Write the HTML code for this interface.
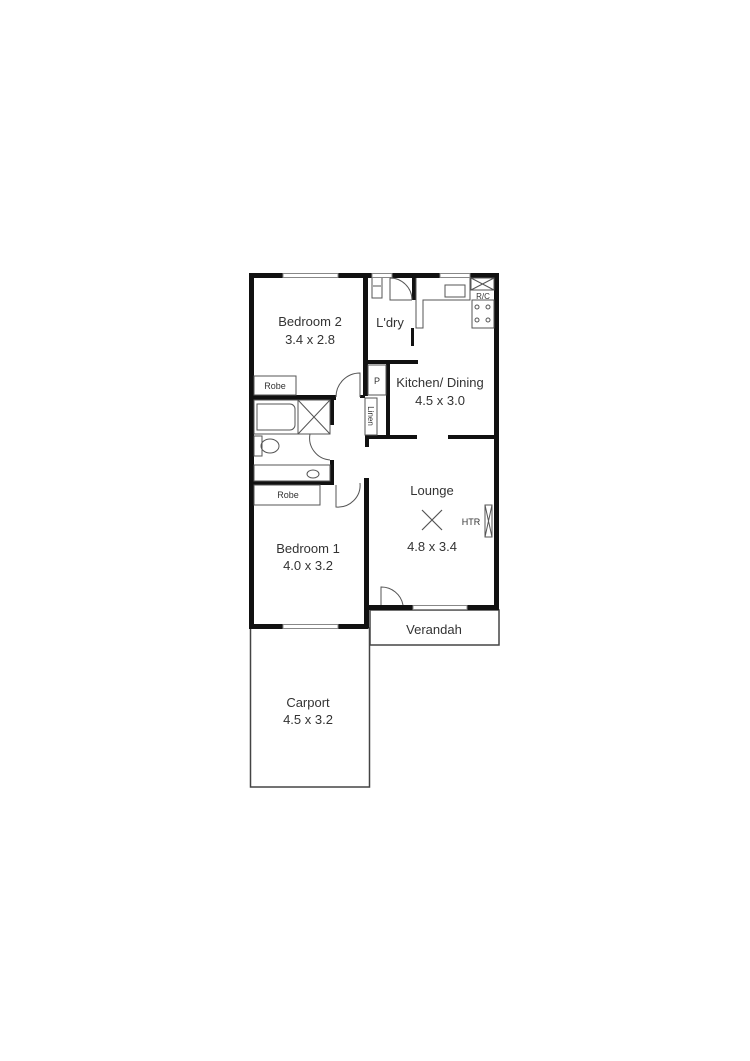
<!DOCTYPE html>
<html><head><style>
html,body{margin:0;padding:0;background:#fff;}
svg{display:block}
text{font-family:"Liberation Sans",sans-serif;fill:#333}
</style></head><body>
<svg width="750" height="1061" viewBox="0 0 750 1061" xmlns="http://www.w3.org/2000/svg">
<rect width="750" height="1061" fill="#fff"/>
<!-- carport & verandah -->
<rect x="250.5" y="628" width="119" height="159" fill="none" stroke="#444" stroke-width="1.5"/>
<rect x="370" y="610" width="129" height="35" fill="none" stroke="#444" stroke-width="1.5"/>
<g fill="#111">
<!-- outer walls -->
<rect x="249" y="273" width="5" height="356"/>
<rect x="249" y="273" width="250" height="5"/>
<rect x="494" y="273" width="5" height="337"/>
<rect x="249" y="624" width="119" height="5"/>
<rect x="366" y="605" width="133" height="5"/>
<!-- interior -->
<rect x="363" y="273" width="5" height="123"/>
<rect x="412" y="273" width="4" height="27"/>
<rect x="411" y="328" width="3" height="18"/>
<rect x="366" y="360" width="52" height="4"/>
<rect x="254" y="395" width="82" height="5"/>
<rect x="330" y="395" width="4" height="30"/>
<rect x="330" y="460" width="4" height="25"/>
<rect x="254" y="481" width="80" height="4"/>
<rect x="386" y="364" width="4" height="74"/>
<rect x="365" y="435" width="52" height="4"/>
<rect x="448" y="435" width="47" height="4"/>
<rect x="365" y="435" width="4" height="12"/>
<rect x="364" y="478" width="5" height="150"/>
<rect x="360" y="395" width="5" height="3"/>
</g>
<!-- windows -->
<g fill="#fff" stroke="#888" stroke-width="1">
<rect x="283" y="273.5" width="55" height="4"/>
<rect x="372" y="273.5" width="20" height="4"/>
<rect x="440" y="273.5" width="30" height="4"/>
<rect x="283" y="624.5" width="55" height="4"/>
<rect x="413" y="605.5" width="54" height="4"/>
</g>
<!-- fixtures -->
<g fill="none" stroke="#555" stroke-width="1">
<rect x="254" y="376" width="42" height="19"/>
<rect x="254" y="485" width="66" height="20"/>
<rect x="368" y="365" width="18" height="30"/>
<rect x="365" y="398" width="12" height="37"/>
<rect x="254" y="400" width="44" height="34"/>
<path d="M257 404 h33 a5 5 0 0 1 5 5 v16 a5 5 0 0 1 -5 5 h-33 z"/>
<rect x="298" y="400" width="32" height="34"/>
<path d="M298 400 L330 434 M330 400 L298 434"/>
<rect x="254" y="436" width="8" height="20"/>
<ellipse cx="270" cy="446" rx="9" ry="7"/>
<rect x="254" y="465" width="76" height="16"/>
<ellipse cx="313" cy="474" rx="6" ry="4"/>
<path d="M372 278 v20 h10 v-20 M373 286 h8"/>
<path d="M416 278 v50 h7 v-28 h47 v-22"/>
<path d="M445 285 h20 v12 h-20z"/>
<rect x="471" y="278" width="23" height="12"/><path d="M471 278 L494 290 M494 278 L471 290"/>
<rect x="472" y="300" width="22" height="28"/>
<circle cx="477" cy="307" r="2"/><circle cx="488" cy="307" r="2"/><circle cx="477" cy="320" r="2"/><circle cx="488" cy="320" r="2"/>
<rect x="485" y="505" width="7" height="32"/><path d="M485 505 L492 537 M492 505 L485 537"/>
<path d="M422 510 L442 530 M442 510 L422 530" stroke-width="1.2"/>
<!-- door arcs -->
<path d="M390 278 v22 h22" /><path d="M390 278 a22 22 0 0 1 22 22"/>
<path d="M336 397 a24 24 0 0 1 24 -24 v24"/>
<path d="M310 434 a22 22 0 0 0 20 26"/>
<path d="M336 485 v22 a22 22 0 0 0 24 -24"/>
<path d="M381 605 v-18 a22 22 0 0 1 22 18"/>
</g>
<g text-anchor="middle">
<text x="310" y="326" font-size="13">Bedroom 2</text>
<text x="310" y="344" font-size="13">3.4 x 2.8</text>
<text x="390" y="327" font-size="13">L'dry</text>
<text x="440" y="387" font-size="13">Kitchen/ Dining</text>
<text x="440" y="405" font-size="13">4.5 x 3.0</text>
<text x="432" y="495" font-size="13">Lounge</text>
<text x="432" y="551" font-size="13">4.8 x 3.4</text>
<text x="308" y="553" font-size="13">Bedroom 1</text>
<text x="308" y="570" font-size="13">4.0 x 3.2</text>
<text x="434" y="634" font-size="13">Verandah</text>
<text x="308" y="707" font-size="13">Carport</text>
<text x="308" y="724" font-size="13">4.5 x 3.2</text>
<text x="275" y="389" font-size="9">Robe</text>
<text x="288" y="498" font-size="9">Robe</text>
<text x="377" y="384" font-size="9">P</text>
<text x="471" y="525" font-size="9">HTR</text>
<text x="483" y="299" font-size="8">R/C</text>
<text x="0" y="0" font-size="8" transform="translate(368 416) rotate(90)">Linen</text>
</g>
</svg>
</body></html>
